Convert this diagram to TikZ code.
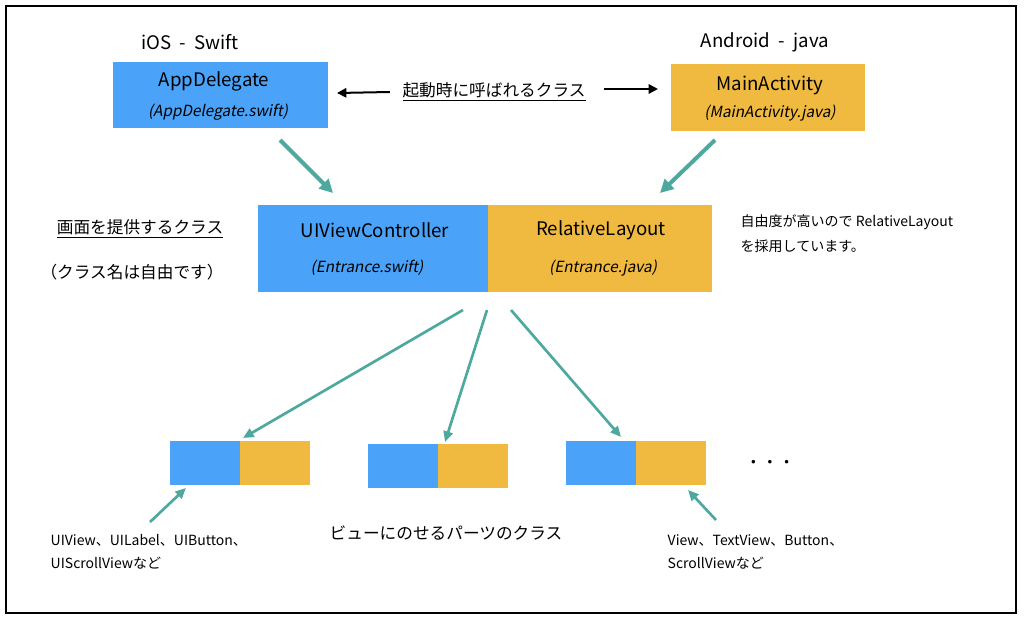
\documentclass[tikz,border=0pt]{standalone}
\usepackage{fontspec}
\setmainfont{Noto Sans CJK JP}[ItalicFont={Noto Sans CJK JP},ItalicFeatures={FakeSlant=0.2}]
\usetikzlibrary{arrows.meta,calc}
\definecolor{iosblue}{RGB}{74,163,248}
\definecolor{droidorange}{RGB}{240,186,64}
\definecolor{tealarrow}{RGB}{77,168,158}
\tikzset{
  box/.style={draw=none,inner sep=0pt,anchor=north west},
  title/.style={font=\fontsize{14}{16}\selectfont},
  file/.style={font=\fontsize{11.5}{14}\selectfont\itshape},
  label/.style={font=\fontsize{12.5}{15}\selectfont},
  note/.style={font=\fontsize{10.5}{13}\selectfont,anchor=west},
  teal/.style={draw=tealarrow,line width=3pt,-{Triangle[length=10pt,width=10pt]}},
  tealthin/.style={draw=tealarrow,line width=2pt,-{Triangle[length=8pt,width=7pt]}},
  blackarr/.style={line width=1.5pt,-{Triangle[length=7pt,width=7pt]}}
}
\begin{document}
\begin{tikzpicture}[x=0.75pt,y=0.75pt,yscale=-1,xscale=1]
\useasboundingbox (0,0) rectangle (1024,621);

%frame
\draw[line width=0.8pt] (6,6) rectangle (1016,613);

%top boxes
\fill[iosblue] (113,62) rectangle (328,128);
\fill[droidorange] (671,64) rectangle (865,131);
\node[title] (ios) at (190,42) {iOS\ \ -\ \ Swift};
\node[title] (appd) at (214,81) {AppDelegate};
\node[file] (appdf) at (218,112) {(AppDelegate.swift)};
\node[title] (droid) at (765,42) {Android\ \ -\ \ java};
\node[title] (mainact) at (770,85) {MainActivity};
\node[file] (mainactf) at (770,113) {(MainActivity.java)};

% Text Node
\node[label] (boot) at (494,92) {\underline{起動時に呼ばれるクラス}};
\coordinate (bootl) at (337,93);
\coordinate (bootr) at (658,89);
\draw[blackarr] (boot.west) ++(-8,0) -- (bootl);
\draw[blackarr] (boot.east) ++(14,-3) -- (bootr);

%center box
\fill[iosblue] (258,205) rectangle (488,292);
\fill[droidorange] (488,205) rectangle (712,292);
\node[title] (uivc) at (375,230) {UIViewController};
\node[file] (uivcf) at (367,268) {(Entrance.swift)};
\node[title] (rel) at (601,230) {RelativeLayout};
\node[file] (relf) at (603,268) {(Entrance.java)};

% Text Node
\node[label] (screen) at (140,229) {\underline{画面を提供するクラス}};
\node[label] (free) at (132,272) {（クラス名は自由です）};
\node[note] (why1) at (736,222) {自由度が高いので RelativeLayout};
\node[note] (why2) at (736,246) {を採用しています。};

%top arrows
\coordinate (ta1) at (280,140);
\coordinate (tb1) at (333,193);
\coordinate (ta2) at (715,140);
\coordinate (tb2) at (660,193);
\draw[teal] (ta1) -- (tb1);
\draw[teal] (ta2) -- (tb2);

%parts boxes
\foreach \x/\y/\n in {170/441/p1,368/444/p2,566/441/p3}{
  \fill[iosblue] (\x,\y) rectangle ++(70,44);
  \fill[droidorange] (\x+70,\y) rectangle ++(70,44);
  \coordinate (\n) at (\x+70,\y);
}
\node[label] (dots) at (770,464) {・・・};

%spread arrows
\coordinate (s1) at (463,310);
\coordinate (s2) at (487,310);
\coordinate (s3) at (511,310);
\draw[tealthin] (s1) -- ($(p1)+(3,-3)$);
\draw[tealthin] (s2) -- ($(p2)+(7,-2)$);
\draw[tealthin] (s3) -- ($(p3)+(-15,-4)$);

%part labels
\node[note] (uil1) at (46,540) {UIView、UILabel、UIButton、};
\node[note] (uil2) at (46,563) {UIScrollViewなど};
\node[label] (parts) at (446,533) {ビューにのせるパーツのクラス};
\node[note] (dl1) at (663,540) {View、TextView、Button、};
\node[note] (dl2) at (663,563) {ScrollViewなど};
\coordinate (u1) at (150,522);
\coordinate (u2) at (186,488);
\coordinate (d1) at (716,520);
\coordinate (d2) at (688,490);
\draw[tealthin] (u1) -- (u2);
\draw[tealthin] (d1) -- (d2);

\end{tikzpicture}
\end{document}
